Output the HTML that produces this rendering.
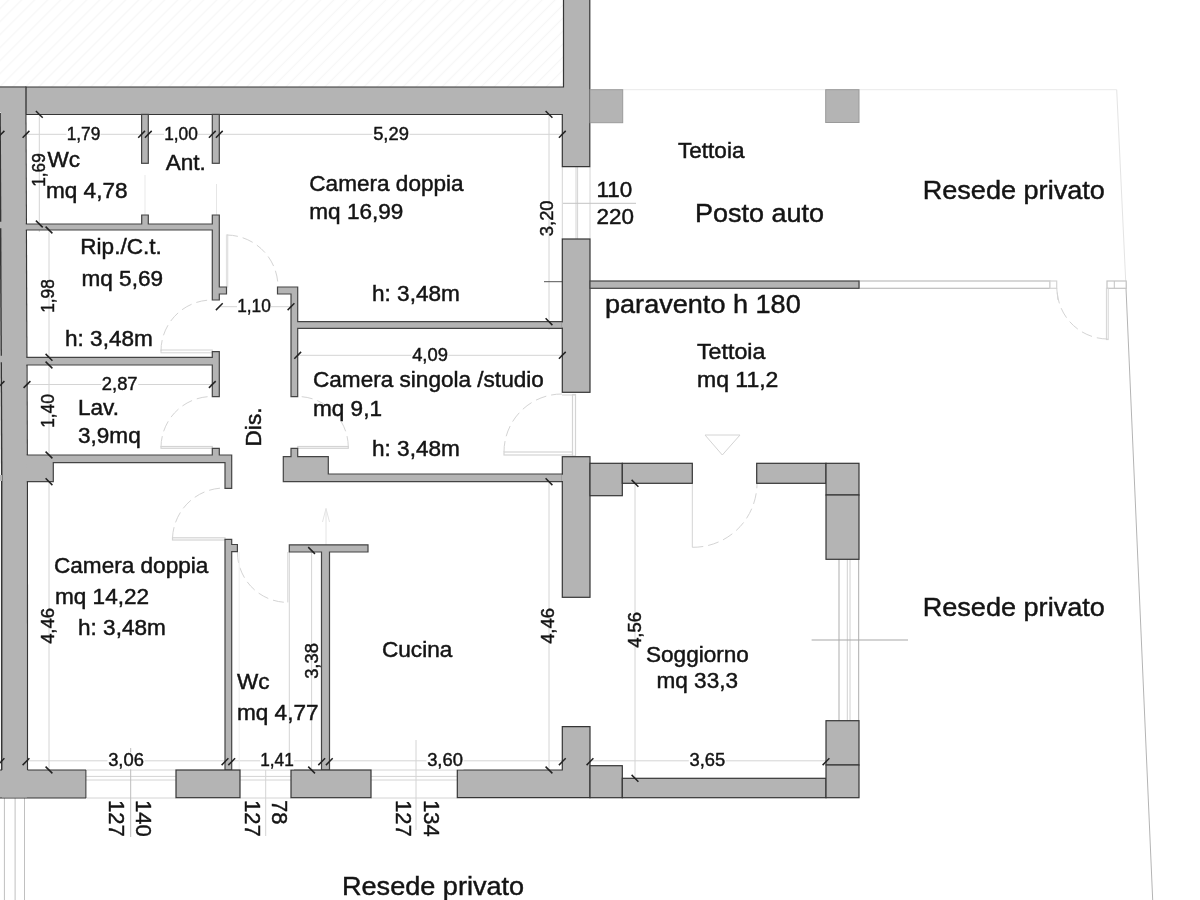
<!DOCTYPE html>
<html lang="it"><head><meta charset="utf-8"><title>Planimetria</title>
<style>
html,body{margin:0;padding:0;background:#fff;}
body{width:1200px;height:900px;overflow:hidden;}
svg{display:block;will-change:transform;font-family:"Liberation Sans",Arial,sans-serif;}
</style></head><body>
<svg width="1200" height="900" viewBox="0 0 1200 900" shape-rendering="auto">
<rect x="0" y="0" width="1200" height="900" fill="#fff"/>
<defs><pattern id="h" width="9.2" height="9.2" patternUnits="userSpaceOnUse" patternTransform="rotate(-45)"><line x1="0" y1="6" x2="9.2" y2="6" stroke="#f6f6f6" stroke-width="1.3"/></pattern></defs>
<rect x="0" y="0" width="563" height="87" fill="url(#h)"/>
<line x1="622.7" y1="89.7" x2="1116.7" y2="89.7" stroke="#e9e9e9" stroke-width="1"/>
<line x1="1116.7" y1="89.7" x2="1125.7" y2="281.0" stroke="#e4e4e4" stroke-width="1"/>
<line x1="1125.7" y1="281.0" x2="1152.7" y2="900.0" stroke="#b4b4b4" stroke-width="1"/>
<line x1="0.0" y1="134.3" x2="563.0" y2="134.3" stroke="#d4d4d4" stroke-width="1"/>
<line x1="39.3" y1="114.0" x2="39.3" y2="232.0" stroke="#d4d4d4" stroke-width="1"/>
<line x1="49.0" y1="228.0" x2="49.0" y2="770.0" stroke="#d4d4d4" stroke-width="1"/>
<line x1="26.0" y1="384.5" x2="219.0" y2="384.5" stroke="#d4d4d4" stroke-width="1"/>
<line x1="219.0" y1="306.7" x2="291.0" y2="306.7" stroke="#d4d4d4" stroke-width="1"/>
<line x1="297.7" y1="355.3" x2="563.0" y2="355.3" stroke="#d4d4d4" stroke-width="1"/>
<line x1="549.0" y1="114.0" x2="549.0" y2="330.0" stroke="#d4d4d4" stroke-width="1"/>
<line x1="549.0" y1="481.0" x2="549.0" y2="772.0" stroke="#d4d4d4" stroke-width="1"/>
<line x1="635.0" y1="483.0" x2="635.0" y2="780.0" stroke="#d4d4d4" stroke-width="1"/>
<line x1="311.6" y1="551.0" x2="311.6" y2="772.0" stroke="#d4d4d4" stroke-width="1"/>
<line x1="289.3" y1="551.0" x2="289.3" y2="770.0" stroke="#d4d4d4" stroke-width="1"/>
<line x1="0.0" y1="760.8" x2="830.0" y2="760.8" stroke="#d4d4d4" stroke-width="1"/>
<line x1="85.0" y1="770.0" x2="176.0" y2="770.0" stroke="#d4d4d4" stroke-width="1"/>
<line x1="240.0" y1="770.0" x2="291.0" y2="770.0" stroke="#d4d4d4" stroke-width="1"/>
<line x1="371.0" y1="770.0" x2="457.3" y2="770.0" stroke="#d4d4d4" stroke-width="1"/>
<line x1="85.0" y1="776.4" x2="176.0" y2="776.4" stroke="#d4d4d4" stroke-width="1"/>
<line x1="240.0" y1="776.4" x2="291.0" y2="776.4" stroke="#d4d4d4" stroke-width="1"/>
<line x1="371.0" y1="776.4" x2="457.3" y2="776.4" stroke="#d4d4d4" stroke-width="1"/>
<line x1="85.0" y1="780.0" x2="176.0" y2="780.0" stroke="#d4d4d4" stroke-width="1"/>
<line x1="240.0" y1="780.0" x2="291.0" y2="780.0" stroke="#d4d4d4" stroke-width="1"/>
<line x1="371.0" y1="780.0" x2="457.3" y2="780.0" stroke="#d4d4d4" stroke-width="1"/>
<line x1="85.0" y1="798.0" x2="176.0" y2="798.0" stroke="#d4d4d4" stroke-width="1"/>
<line x1="240.0" y1="798.0" x2="291.0" y2="798.0" stroke="#d4d4d4" stroke-width="1"/>
<line x1="371.0" y1="798.0" x2="457.3" y2="798.0" stroke="#d4d4d4" stroke-width="1"/>
<line x1="4.4" y1="798.0" x2="4.4" y2="900.0" stroke="#c0c0c0" stroke-width="1"/>
<line x1="15.1" y1="798.0" x2="15.1" y2="900.0" stroke="#c0c0c0" stroke-width="1"/>
<line x1="24.5" y1="798.0" x2="24.5" y2="900.0" stroke="#c0c0c0" stroke-width="1"/>
<line x1="130.7" y1="748.0" x2="130.7" y2="837.0" stroke="#bdbdbd" stroke-width="1"/>
<line x1="265.7" y1="770.0" x2="265.7" y2="836.0" stroke="#d4d4d4" stroke-width="1"/>
<line x1="416.0" y1="740.0" x2="416.0" y2="830.0" stroke="#d4d4d4" stroke-width="1"/>
<line x1="216.5" y1="184.0" x2="216.5" y2="215.0" stroke="#e6e6e6" stroke-width="1"/>
<line x1="145.0" y1="175.0" x2="145.0" y2="215.0" stroke="#e9e9e9" stroke-width="1"/>
<line x1="562.3" y1="166.7" x2="562.3" y2="239.0" stroke="#d4d4d4" stroke-width="1"/>
<line x1="576.0" y1="166.7" x2="576.0" y2="239.0" stroke="#d4d4d4" stroke-width="1"/>
<line x1="577.6" y1="166.7" x2="577.6" y2="239.0" stroke="#d4d4d4" stroke-width="1"/>
<line x1="590.0" y1="166.7" x2="590.0" y2="239.0" stroke="#d4d4d4" stroke-width="1"/>
<line x1="563.0" y1="203.3" x2="636.0" y2="203.3" stroke="#c4c4c4" stroke-width="1"/>
<line x1="544.0" y1="281.7" x2="563.0" y2="281.7" stroke="#555" stroke-width="1"/>
<line x1="839.0" y1="559.0" x2="839.0" y2="721.0" stroke="#adadad" stroke-width="1"/>
<line x1="847.3" y1="559.0" x2="847.3" y2="721.0" stroke="#d0d0d0" stroke-width="1"/>
<line x1="850.0" y1="559.0" x2="850.0" y2="721.0" stroke="#d0d0d0" stroke-width="1"/>
<line x1="858.7" y1="559.0" x2="858.7" y2="721.0" stroke="#adadad" stroke-width="1"/>
<line x1="811.6" y1="640.0" x2="908.0" y2="640.0" stroke="#a8a8a8" stroke-width="1.2"/>
<rect x="859.0" y="281.0" width="191.0" height="7.3" fill="#fff" stroke="#bdbdbd" stroke-width="1.2"/>
<rect x="1050.0" y="281.0" width="6.7" height="7.3" fill="#fff" stroke="#d4d4d4" stroke-width="1.2"/>
<rect x="1107.0" y="281.0" width="19.2" height="7.3" fill="#fff" stroke="#c4c4c4" stroke-width="1.2"/>
<line x1="1114.3" y1="281.0" x2="1114.3" y2="288.3" stroke="#c4c4c4" stroke-width="1"/>
<line x1="1056.7" y1="288.0" x2="1058.0" y2="300.0" stroke="#d4d4d4" stroke-width="1"/>
<rect x="1106.4" y="288.3" width="1.8" height="51.3" fill="none" stroke="#d4d4d4" stroke-width="1"/>
<path d="M1107.7 339 A51 51 0 0 1 1057 288" fill="none" stroke="#d4d4d4" stroke-width="1" stroke-dasharray="11 5"/>
<line x1="326.0" y1="508.5" x2="326.0" y2="545.0" stroke="#e4e4e4" stroke-width="1"/>
<path d="M322.5 522 L326 508.5 L329.5 522" fill="none" stroke="#e4e4e4" stroke-width="1"/>
<path d="M705 435 L740 435 L722.3 455 Z" fill="none" stroke="#d4d4d4" stroke-width="1"/>
<rect x="161.0" y="350.0" width="51.3" height="2.8" fill="none" stroke="#d4d4d4" stroke-width="1"/>
<path d="M161 351 A51 51 0 0 1 212.3 300" fill="none" stroke="#d4d4d4" stroke-width="1" stroke-dasharray="11 5"/>
<rect x="161.0" y="446.5" width="51.3" height="1.8" fill="none" stroke="#d4d4d4" stroke-width="1.2"/>
<path d="M161 447 A51 51 0 0 1 212.3 396.5" fill="none" stroke="#d4d4d4" stroke-width="1" stroke-dasharray="11 5"/>
<rect x="297.7" y="446.5" width="50.6" height="1.8" fill="none" stroke="#d4d4d4" stroke-width="1.2"/>
<path d="M348.3 447 A51 51 0 0 0 297.7 396.5" fill="none" stroke="#d4d4d4" stroke-width="1" stroke-dasharray="11 5"/>
<rect x="172.5" y="537.8" width="52.5" height="2.2" fill="none" stroke="#d4d4d4" stroke-width="1.2"/>
<path d="M172.5 538 A52 52 0 0 1 225 488" fill="none" stroke="#d4d4d4" stroke-width="1" stroke-dasharray="11 5"/>
<path d="M237.4 552 A50.4 50.4 0 0 0 287.8 602.4" fill="none" stroke="#d4d4d4" stroke-width="1" stroke-dasharray="11 5"/>
<line x1="287.8" y1="552.0" x2="287.8" y2="602.4" stroke="#d4d4d4" stroke-width="1"/>
<line x1="239.2" y1="552.0" x2="239.2" y2="770.0" stroke="#efefef" stroke-width="1"/>
<rect x="226.5" y="235.0" width="1.2" height="52.0" fill="none" stroke="#e2e2e2" stroke-width="1.2"/>
<path d="M227 235 A52 52 0 0 1 278 287" fill="none" stroke="#d4d4d4" stroke-width="1" stroke-dasharray="11 5"/>
<rect x="572.5" y="394.5" width="3.0" height="61.5" fill="none" stroke="#d4d4d4" stroke-width="1.2"/>
<rect x="504.0" y="452.0" width="68.5" height="3.0" fill="none" stroke="#d4d4d4" stroke-width="1.2"/>
<line x1="562.0" y1="395.0" x2="575.0" y2="395.0" stroke="#d4d4d4" stroke-width="1"/>
<path d="M504 452 A58 58 0 0 1 562 394" fill="none" stroke="#d4d4d4" stroke-width="1" stroke-dasharray="11 5"/>
<line x1="692.3" y1="483.0" x2="692.3" y2="547.3" stroke="#d4d4d4" stroke-width="1"/>
<path d="M692.3 547.3 A64 64 0 0 0 757 483" fill="none" stroke="#d4d4d4" stroke-width="1" stroke-dasharray="11 5"/>
<polygon points="563.5,-2.0 589.8,-2.0 589.8,166.7 562.3,166.7 562.3,114.5 26.0,114.5 26.0,87.0 563.5,87.0" fill="#b4b4b4" stroke="#353535" stroke-width="1.2"/>
<rect x="590.0" y="89.7" width="32.7" height="33.0" fill="#b4b4b4" stroke="#9a9a9a" stroke-width="1"/>
<rect x="825.7" y="89.7" width="33.3" height="32.8" fill="#b4b4b4" stroke="#9a9a9a" stroke-width="1"/>
<rect x="141.6" y="114.4" width="6.7" height="48.9" fill="#b4b4b4" stroke="#444" stroke-width="1.2"/>
<rect x="212.3" y="114.4" width="7.0" height="48.9" fill="#b4b4b4" stroke="#444" stroke-width="1.2"/>
<polygon points="20.0,224.0 141.7,224.0 141.7,215.0 148.3,215.0 148.3,224.0 212.3,224.0 212.3,215.0 219.3,215.0 219.3,287.0 226.5,287.0 226.5,294.0 219.3,294.0 219.3,300.0 212.3,300.0 212.3,230.0 20.0,230.0" fill="#b4b4b4" stroke="#444" stroke-width="1.2"/>
<polygon points="277.5,287.0 297.7,287.0 297.7,321.7 563.3,321.7 563.3,328.3 297.7,328.3 297.7,396.7 291.0,396.7 291.0,294.0 277.5,294.0" fill="#b4b4b4" stroke="#444" stroke-width="1.2"/>
<rect x="562.3" y="239.0" width="27.7" height="153.3" fill="#b4b4b4" stroke="#353535" stroke-width="1.2"/>
<line x1="562.3" y1="322.4" x2="562.3" y2="327.6" stroke="#b4b4b4" stroke-width="1.6"/>
<rect x="590.0" y="281.0" width="269.0" height="7.3" fill="#b4b4b4" stroke="#444" stroke-width="1.2"/>
<polygon points="20.0,357.3 212.3,357.3 212.3,351.7 219.3,351.7 219.3,396.7 212.3,396.7 212.3,365.0 20.0,365.0" fill="#b4b4b4" stroke="#444" stroke-width="1.2"/>
<polygon points="20.0,455.0 212.3,455.0 212.3,448.3 219.3,448.3 219.3,455.0 231.7,455.0 231.7,488.3 225.0,488.3 225.0,462.7 53.3,462.7 53.3,481.7 20.0,481.7" fill="#b4b4b4" stroke="#444" stroke-width="1.2"/>
<polygon points="283.3,456.7 291.0,456.7 291.0,448.3 297.7,448.3 297.7,456.7 328.3,456.7 328.3,474.0 563.3,474.0 563.3,481.7 283.3,481.7" fill="#b4b4b4" stroke="#444" stroke-width="1.2"/>
<polygon points="225.0,539.3 231.7,539.3 231.7,544.5 237.4,544.5 237.4,551.6 231.7,551.6 231.7,770.0 225.0,770.0" fill="#b4b4b4" stroke="#444" stroke-width="1.2"/>
<polygon points="289.3,544.8 368.0,544.8 368.0,552.0 329.5,552.0 329.5,770.0 321.5,770.0 321.5,552.0 289.3,552.0" fill="#b4b4b4" stroke="#444" stroke-width="1.2"/>
<rect x="562.3" y="456.7" width="27.7" height="140.6" fill="#b4b4b4" stroke="#353535" stroke-width="1.2"/>
<line x1="562.3" y1="474.7" x2="562.3" y2="481.0" stroke="#b4b4b4" stroke-width="1.6"/>
<rect x="590.0" y="463.3" width="32.3" height="32.4" fill="#b4b4b4" stroke="#353535" stroke-width="1.2"/>
<rect x="622.3" y="463.3" width="70.0" height="20.0" fill="#b4b4b4" stroke="#353535" stroke-width="1.2"/>
<rect x="756.7" y="463.3" width="69.3" height="20.0" fill="#b4b4b4" stroke="#353535" stroke-width="1.2"/>
<rect x="826.0" y="463.3" width="33.0" height="31.7" fill="#b4b4b4" stroke="#353535" stroke-width="1.2"/>
<rect x="826.0" y="495.0" width="33.0" height="64.3" fill="#b4b4b4" stroke="#353535" stroke-width="1.2"/>
<polygon points="27.5,770.0 85.9,770.0 85.9,798.0 -2.0,798.0 -2.0,770.0 2.0,770.0" fill="#b4b4b4" stroke="none" stroke-width="1.2"/>
<path d="M27.5 770 L85.9 770 L85.9 798 L-2 798 M-2 770 L2 770" fill="none" stroke="#353535" stroke-width="1"/>
<rect x="176.0" y="770.0" width="64.0" height="27.7" fill="#b4b4b4" stroke="#353535" stroke-width="1.2"/>
<rect x="291.0" y="770.0" width="80.0" height="27.7" fill="#b4b4b4" stroke="#353535" stroke-width="1.2"/>
<polygon points="457.3,770.0 562.3,770.0 562.3,726.7 590.0,726.7 590.0,797.7 457.3,797.7" fill="#b4b4b4" stroke="#353535" stroke-width="1.2"/>
<rect x="590.0" y="765.7" width="32.3" height="32.0" fill="#b4b4b4" stroke="#353535" stroke-width="1.2"/>
<rect x="622.3" y="778.3" width="203.7" height="19.4" fill="#b4b4b4" stroke="#353535" stroke-width="1.2"/>
<rect x="826.0" y="720.7" width="33.0" height="44.3" fill="#b4b4b4" stroke="#353535" stroke-width="1.2"/>
<rect x="826.0" y="765.0" width="33.0" height="32.7" fill="#b4b4b4" stroke="#353535" stroke-width="1.2"/>
<polygon points="-2.0,87.6 25.2,87.6 26.8,470.0 26.9,770.0 26.9,797.4 2.0,797.4 2.0,470.0 0.5,112.0 -2.0,112.0" fill="#b4b4b4" stroke="none" stroke-width="1.2"/>
<line x1="-1.0" y1="87.0" x2="26.4" y2="87.0" stroke="#353535" stroke-width="1.2"/>
<line x1="0.1" y1="113.0" x2="1.7" y2="470.0" stroke="#353535" stroke-width="1.5"/>
<line x1="1.7" y1="470.0" x2="1.7" y2="770.0" stroke="#353535" stroke-width="1.5"/>
<line x1="25.9" y1="114.4" x2="26.4" y2="224.0" stroke="#353535" stroke-width="1.2"/>
<line x1="26.4" y1="230.0" x2="26.9" y2="357.3" stroke="#353535" stroke-width="1.2"/>
<line x1="27.0" y1="365.0" x2="27.3" y2="455.0" stroke="#353535" stroke-width="1.2"/>
<line x1="27.4" y1="481.7" x2="27.5" y2="770.0" stroke="#353535" stroke-width="1.2"/>
<line x1="25.8" y1="87.5" x2="25.8" y2="114.4" stroke="#4a4a4a" stroke-width="1"/>
<line x1="0.5" y1="221.8" x2="0.5" y2="228.2" stroke="#b4b4b4" stroke-width="3"/>
<line x1="0.5" y1="355.8" x2="0.5" y2="362.2" stroke="#b4b4b4" stroke-width="3"/>
<line x1="0.5" y1="475.0" x2="0.5" y2="481.0" stroke="#b4b4b4" stroke-width="3"/>
<line x1="-2.4" y1="137.7" x2="4.4" y2="130.9" stroke="#222" stroke-width="1.5"/>
<line x1="22.6" y1="137.7" x2="29.4" y2="130.9" stroke="#222" stroke-width="1.5"/>
<line x1="138.2" y1="137.7" x2="145.0" y2="130.9" stroke="#222" stroke-width="1.5"/>
<line x1="144.9" y1="137.7" x2="151.7" y2="130.9" stroke="#222" stroke-width="1.5"/>
<line x1="208.9" y1="137.7" x2="215.7" y2="130.9" stroke="#222" stroke-width="1.5"/>
<line x1="215.9" y1="137.7" x2="222.7" y2="130.9" stroke="#222" stroke-width="1.5"/>
<line x1="558.9" y1="137.7" x2="565.7" y2="130.9" stroke="#222" stroke-width="1.5"/>
<line x1="35.9" y1="111.0" x2="42.7" y2="117.8" stroke="#222" stroke-width="1.5"/>
<line x1="35.9" y1="220.6" x2="42.7" y2="227.4" stroke="#222" stroke-width="1.5"/>
<line x1="45.6" y1="226.6" x2="52.4" y2="233.4" stroke="#222" stroke-width="1.5"/>
<line x1="45.6" y1="353.9" x2="52.4" y2="360.7" stroke="#222" stroke-width="1.5"/>
<line x1="45.6" y1="361.6" x2="52.4" y2="368.4" stroke="#222" stroke-width="1.5"/>
<line x1="45.6" y1="451.6" x2="52.4" y2="458.4" stroke="#222" stroke-width="1.5"/>
<line x1="45.6" y1="478.3" x2="52.4" y2="485.1" stroke="#222" stroke-width="1.5"/>
<line x1="45.6" y1="766.6" x2="52.4" y2="773.4" stroke="#222" stroke-width="1.5"/>
<line x1="-2.4" y1="387.9" x2="4.4" y2="381.1" stroke="#222" stroke-width="1.5"/>
<line x1="23.6" y1="387.9" x2="30.4" y2="381.1" stroke="#222" stroke-width="1.5"/>
<line x1="208.9" y1="387.9" x2="215.7" y2="381.1" stroke="#222" stroke-width="1.5"/>
<line x1="215.9" y1="310.1" x2="222.7" y2="303.3" stroke="#222" stroke-width="1.5"/>
<line x1="287.6" y1="310.1" x2="294.4" y2="303.3" stroke="#222" stroke-width="1.5"/>
<line x1="294.3" y1="358.7" x2="301.1" y2="351.9" stroke="#222" stroke-width="1.5"/>
<line x1="558.9" y1="358.7" x2="565.7" y2="351.9" stroke="#222" stroke-width="1.5"/>
<line x1="545.6" y1="111.0" x2="552.4" y2="117.8" stroke="#222" stroke-width="1.5"/>
<line x1="545.6" y1="318.3" x2="552.4" y2="325.1" stroke="#222" stroke-width="1.5"/>
<line x1="545.6" y1="478.3" x2="552.4" y2="485.1" stroke="#222" stroke-width="1.5"/>
<line x1="545.6" y1="766.6" x2="552.4" y2="773.4" stroke="#222" stroke-width="1.5"/>
<line x1="631.6" y1="479.9" x2="638.4" y2="486.7" stroke="#222" stroke-width="1.5"/>
<line x1="631.6" y1="774.9" x2="638.4" y2="781.7" stroke="#222" stroke-width="1.5"/>
<line x1="308.2" y1="547.1" x2="315.0" y2="553.9" stroke="#222" stroke-width="1.5"/>
<line x1="308.2" y1="766.6" x2="315.0" y2="773.4" stroke="#222" stroke-width="1.5"/>
<line x1="-2.4" y1="765.1" x2="4.4" y2="758.3" stroke="#222" stroke-width="1.5"/>
<line x1="22.6" y1="765.1" x2="29.4" y2="758.3" stroke="#222" stroke-width="1.5"/>
<line x1="221.6" y1="765.1" x2="228.4" y2="758.3" stroke="#222" stroke-width="1.5"/>
<line x1="228.3" y1="765.1" x2="235.1" y2="758.3" stroke="#222" stroke-width="1.5"/>
<line x1="318.3" y1="765.1" x2="325.1" y2="758.3" stroke="#222" stroke-width="1.5"/>
<line x1="325.9" y1="765.1" x2="332.7" y2="758.3" stroke="#222" stroke-width="1.5"/>
<line x1="558.9" y1="765.1" x2="565.7" y2="758.3" stroke="#222" stroke-width="1.5"/>
<line x1="586.6" y1="765.1" x2="593.4" y2="758.3" stroke="#222" stroke-width="1.5"/>
<line x1="822.6" y1="765.1" x2="829.4" y2="758.3" stroke="#222" stroke-width="1.5"/>
<text transform="translate(47.5 166.5) scale(1.06 1)" font-size="21.3" text-anchor="start" fill="#141414" stroke="#141414" stroke-width="0.45">Wc</text>
<text transform="translate(46.0 198.0) scale(1.06 1)" font-size="21.3" text-anchor="start" fill="#141414" stroke="#141414" stroke-width="0.45">mq 4,78</text>
<text transform="translate(165.7 170.0) scale(1.06 1)" font-size="21.3" text-anchor="start" fill="#141414" stroke="#141414" stroke-width="0.45">Ant.</text>
<text transform="translate(309.3 191.0) scale(1.06 1)" font-size="21.3" text-anchor="start" fill="#141414" stroke="#141414" stroke-width="0.45">Camera doppia</text>
<text transform="translate(309.3 219.0) scale(1.06 1)" font-size="21.3" text-anchor="start" fill="#141414" stroke="#141414" stroke-width="0.45">mq 16,99</text>
<text transform="translate(372.0 301.0) scale(1.06 1)" font-size="21.3" text-anchor="start" fill="#141414" stroke="#141414" stroke-width="0.45">h: 3,48m</text>
<text transform="translate(80.3 254.0) scale(1.06 1)" font-size="21.3" text-anchor="start" fill="#141414" stroke="#141414" stroke-width="0.45">Rip./C.t.</text>
<text transform="translate(81.5 285.7) scale(1.06 1)" font-size="21.3" text-anchor="start" fill="#141414" stroke="#141414" stroke-width="0.45">mq 5,69</text>
<text transform="translate(65.0 346.0) scale(1.06 1)" font-size="21.3" text-anchor="start" fill="#141414" stroke="#141414" stroke-width="0.45">h: 3,48m</text>
<text transform="translate(78.0 415.0) scale(1.06 1)" font-size="21.3" text-anchor="start" fill="#141414" stroke="#141414" stroke-width="0.45">Lav.</text>
<text transform="translate(78.0 443.0) scale(1.06 1)" font-size="21.3" text-anchor="start" fill="#141414" stroke="#141414" stroke-width="0.45">3,9mq</text>
<text transform="translate(313.0 387.0) scale(1.06 1)" font-size="21.3" text-anchor="start" fill="#141414" stroke="#141414" stroke-width="0.45">Camera singola /studio</text>
<text transform="translate(313.0 415.5) scale(1.06 1)" font-size="21.3" text-anchor="start" fill="#141414" stroke="#141414" stroke-width="0.45">mq 9,1</text>
<text transform="translate(372.0 456.0) scale(1.06 1)" font-size="21.3" text-anchor="start" fill="#141414" stroke="#141414" stroke-width="0.45">h: 3,48m</text>
<text transform="translate(54.0 573.0) scale(1.06 1)" font-size="21.3" text-anchor="start" fill="#141414" stroke="#141414" stroke-width="0.45">Camera doppia</text>
<text transform="translate(55.0 604.0) scale(1.06 1)" font-size="21.3" text-anchor="start" fill="#141414" stroke="#141414" stroke-width="0.45">mq 14,22</text>
<text transform="translate(78.0 635.0) scale(1.06 1)" font-size="21.3" text-anchor="start" fill="#141414" stroke="#141414" stroke-width="0.45">h: 3,48m</text>
<text transform="translate(237.0 689.0) scale(1.06 1)" font-size="21.3" text-anchor="start" fill="#141414" stroke="#141414" stroke-width="0.45">Wc</text>
<text transform="translate(237.0 720.0) scale(1.06 1)" font-size="21.3" text-anchor="start" fill="#141414" stroke="#141414" stroke-width="0.45">mq 4,77</text>
<text transform="translate(382.0 657.0) scale(1.06 1)" font-size="21.3" text-anchor="start" fill="#141414" stroke="#141414" stroke-width="0.45">Cucina</text>
<text transform="translate(646.0 661.5) scale(1.06 1)" font-size="21.3" text-anchor="start" fill="#141414" stroke="#141414" stroke-width="0.45">Soggiorno</text>
<text transform="translate(656.5 688.0) scale(1.06 1)" font-size="21.3" text-anchor="start" fill="#141414" stroke="#141414" stroke-width="0.45">mq 33,3</text>
<text transform="translate(678.0 158.0) scale(1.06 1)" font-size="21.3" text-anchor="start" fill="#141414" stroke="#141414" stroke-width="0.45">Tettoia</text>
<text transform="translate(697.0 359.3) scale(1.09 1)" font-size="21.3" text-anchor="start" fill="#141414" stroke="#141414" stroke-width="0.45">Tettoia</text>
<text transform="translate(697.0 387.3) scale(1.08 1)" font-size="21.3" text-anchor="start" fill="#141414" stroke="#141414" stroke-width="0.45">mq 11,2</text>
<text transform="translate(596.5 196.7) scale(1.02 1)" font-size="22" text-anchor="start" fill="#141414" stroke="#141414" stroke-width="0.45">110</text>
<text transform="translate(596.5 224.0) scale(1.02 1)" font-size="22" text-anchor="start" fill="#141414" stroke="#141414" stroke-width="0.45">220</text>
<text transform="translate(695.0 221.7) scale(1.08 1)" font-size="25" text-anchor="start" fill="#141414" stroke="#141414" stroke-width="0.45">Posto auto</text>
<text transform="translate(922.7 199.0) scale(1.03 1)" font-size="26.3" text-anchor="start" fill="#141414" stroke="#141414" stroke-width="0.45">Resede privato</text>
<text transform="translate(922.7 616.0) scale(1.03 1)" font-size="26.3" text-anchor="start" fill="#141414" stroke="#141414" stroke-width="0.45">Resede privato</text>
<text transform="translate(342.0 895.0) scale(1.03 1)" font-size="26.3" text-anchor="start" fill="#141414" stroke="#141414" stroke-width="0.45">Resede privato</text>
<text transform="translate(605.0 313.0) scale(1.03 1)" font-size="26.3" text-anchor="start" fill="#141414" stroke="#141414" stroke-width="0.45">paravento h 180</text>
<text transform="translate(261.0 427.0) rotate(-90) scale(1.06 1)" font-size="21.3" text-anchor="middle" fill="#141414" stroke="#141414" stroke-width="0.45">Dis.</text>
<rect x="66.5" y="125.80000000000001" width="34" height="17" fill="#fff"/>
<text transform="translate(83.5 139.8) scale(0.96 1)" font-size="18" text-anchor="middle" fill="#141414" stroke="#141414" stroke-width="0.45">1,79</text>
<rect x="164" y="125.80000000000001" width="34" height="17" fill="#fff"/>
<text transform="translate(181.0 139.8) scale(0.96 1)" font-size="18" text-anchor="middle" fill="#141414" stroke="#141414" stroke-width="0.45">1,00</text>
<rect x="372.5" y="125.5" width="37" height="17" fill="#fff"/>
<text transform="translate(391.0 139.5) scale(1.02 1)" font-size="18" text-anchor="middle" fill="#141414" stroke="#141414" stroke-width="0.45">5,29</text>
<rect x="237" y="298.4" width="34" height="17" fill="#fff"/>
<text transform="translate(254.0 312.4) scale(0.96 1)" font-size="18" text-anchor="middle" fill="#141414" stroke="#141414" stroke-width="0.45">1,10</text>
<rect x="411.5" y="347" width="37" height="17" fill="#fff"/>
<text transform="translate(430.0 361.0) scale(1.02 1)" font-size="18" text-anchor="middle" fill="#141414" stroke="#141414" stroke-width="0.45">4,09</text>
<rect x="101.2" y="376" width="37" height="17" fill="#fff"/>
<text transform="translate(119.7 390.0) scale(1.02 1)" font-size="18" text-anchor="middle" fill="#141414" stroke="#141414" stroke-width="0.45">2,87</text>
<rect x="107.5" y="752.3" width="37" height="17" fill="#fff"/>
<text transform="translate(126.0 766.3) scale(1.02 1)" font-size="18" text-anchor="middle" fill="#141414" stroke="#141414" stroke-width="0.45">3,06</text>
<rect x="260" y="752.3" width="34" height="17" fill="#fff"/>
<text transform="translate(277.0 766.3) scale(0.96 1)" font-size="18" text-anchor="middle" fill="#141414" stroke="#141414" stroke-width="0.45">1,41</text>
<rect x="426.5" y="752.3" width="37" height="17" fill="#fff"/>
<text transform="translate(445.0 766.3) scale(1.02 1)" font-size="18" text-anchor="middle" fill="#141414" stroke="#141414" stroke-width="0.45">3,60</text>
<rect x="688.8" y="752.3" width="37" height="17" fill="#fff"/>
<text transform="translate(707.3 766.3) scale(1.02 1)" font-size="18" text-anchor="middle" fill="#141414" stroke="#141414" stroke-width="0.45">3,65</text>
<text transform="translate(44.7 170.0) rotate(-90) scale(0.96 1)" font-size="18" text-anchor="middle" fill="#141414" stroke="#141414" stroke-width="0.45">1,69</text>
<text transform="translate(54.3 296.0) rotate(-90) scale(0.96 1)" font-size="18" text-anchor="middle" fill="#141414" stroke="#141414" stroke-width="0.45">1,98</text>
<text transform="translate(54.3 411.0) rotate(-90) scale(0.96 1)" font-size="18" text-anchor="middle" fill="#141414" stroke="#141414" stroke-width="0.45">1,40</text>
<text transform="translate(54.0 626.0) rotate(-90) scale(1.02 1)" font-size="18" text-anchor="middle" fill="#141414" stroke="#141414" stroke-width="0.45">4,46</text>
<text transform="translate(318.0 661.0) rotate(-90) scale(1.02 1)" font-size="18" text-anchor="middle" fill="#141414" stroke="#141414" stroke-width="0.45">3,38</text>
<text transform="translate(553.0 218.3) rotate(-90) scale(1.02 1)" font-size="18" text-anchor="middle" fill="#141414" stroke="#141414" stroke-width="0.45">3,20</text>
<text transform="translate(554.0 626.0) rotate(-90) scale(1.02 1)" font-size="18" text-anchor="middle" fill="#141414" stroke="#141414" stroke-width="0.45">4,46</text>
<text transform="translate(640.7 630.0) rotate(-90) scale(1.02 1)" font-size="18" text-anchor="middle" fill="#141414" stroke="#141414" stroke-width="0.45">4,56</text>
<text transform="translate(108.8 800.0) rotate(90) scale(1.0 1)" font-size="22" text-anchor="start" fill="#141414" stroke="#141414" stroke-width="0.45">127</text>
<text transform="translate(135.5 800.0) rotate(90) scale(1.0 1)" font-size="22" text-anchor="start" fill="#141414" stroke="#141414" stroke-width="0.45">140</text>
<text transform="translate(244.5 800.0) rotate(90) scale(1.0 1)" font-size="22" text-anchor="start" fill="#141414" stroke="#141414" stroke-width="0.45">127</text>
<text transform="translate(271.5 800.0) rotate(90) scale(1.0 1)" font-size="22" text-anchor="start" fill="#141414" stroke="#141414" stroke-width="0.45">78</text>
<text transform="translate(396.0 800.0) rotate(90) scale(1.0 1)" font-size="22" text-anchor="start" fill="#141414" stroke="#141414" stroke-width="0.45">127</text>
<text transform="translate(424.0 800.0) rotate(90) scale(1.0 1)" font-size="22" text-anchor="start" fill="#141414" stroke="#141414" stroke-width="0.45">134</text>
</svg>
</body></html>
